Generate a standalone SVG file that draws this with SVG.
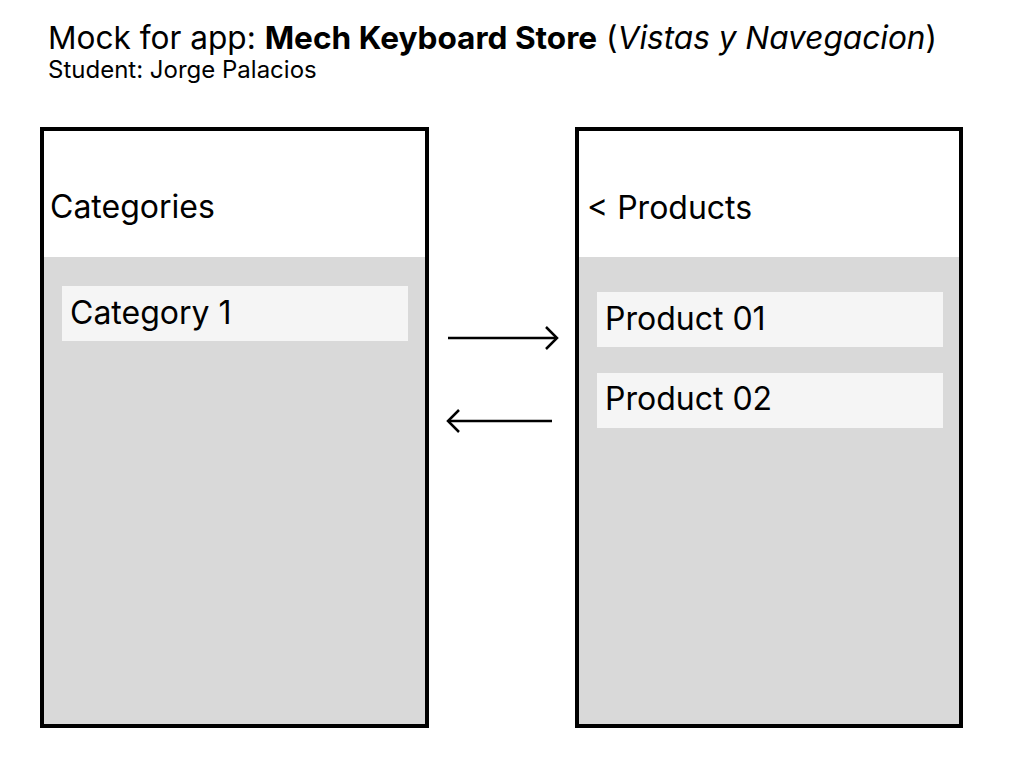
<svg xmlns="http://www.w3.org/2000/svg" width="1024" height="768" viewBox="0 0 1024 768">
<defs>
<style>
text{font-family:Inter,"Liberation Sans",sans-serif;fill:#000}
.frame{fill:#fff;stroke:#000;stroke-width:4}
.body{fill:#d9d9d9}
.item{fill:#f5f5f5}
.lbl{font-size:32px}
.conn{fill:none;stroke:#000;stroke-width:2.5;stroke-linecap:butt}
.head{fill:none;stroke:#000;stroke-width:2.5;stroke-linejoin:miter}
</style>
</defs>
<rect width="1024" height="768" fill="#fff"/>
<g id="title">
<text x="48" y="49" font-size="31.6">Mock for app: <tspan font-weight="bold">Mech Keyboard Store</tspan> (<tspan font-style="italic">Vistas y Navegacion</tspan>)</text>
<text x="48" y="78" font-size="24">Student: Jorge Palacios</text>
</g>
<g id="categories-screen">
<rect class="frame" x="42" y="129" width="385" height="597"/>
<rect class="body" x="44" y="257" width="381" height="467"/>
<text class="lbl" x="50" y="218">Categories</text>
<g id="category-1">
<rect class="item" x="62" y="286" width="346" height="55"/>
<text class="lbl" x="70" y="324">Category 1</text>
</g>
</g>
<g id="products-screen">
<rect class="frame" x="577" y="129" width="384" height="597"/>
<rect class="body" x="579" y="257" width="380" height="467"/>
<text class="lbl" x="587" y="219">&lt; Products</text>
<g id="product-01">
<rect class="item" x="597" y="292" width="346" height="55"/>
<text class="lbl" x="605" y="330">Product 01</text>
</g>
<g id="product-02">
<rect class="item" x="597" y="373" width="346" height="55"/>
<text class="lbl" x="605" y="410">Product 02</text>
</g>
</g>
<g id="connectors">
<line class="conn" x1="448" y1="338" x2="557" y2="338"/>
<polyline class="head" points="546,327 557,338 546,349"/>
<line class="conn" x1="448" y1="421" x2="552" y2="421"/>
<polyline class="head" points="459,410 448,421 459,432"/>
</g>
</svg>
